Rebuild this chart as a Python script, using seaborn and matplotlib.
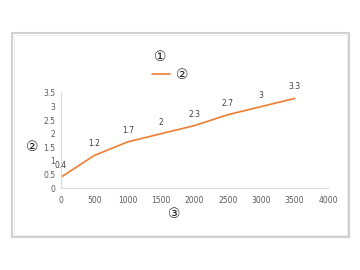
import matplotlib
matplotlib.use("Agg")
import matplotlib.pyplot as plt
import seaborn as sns
import pandas as pd
from matplotlib.patches import Rectangle

x_vals = [0, 500, 1000, 1500, 2000, 2500, 3000, 3500]
y_vals = [0.4, 1.2, 1.7, 2.0, 2.3, 2.7, 3.0, 3.3]
y_labels = ["0.4", "1.2", "1.7", "2", "2.3", "2.7", "3", "3.3"]
x_ticks = [0, 500, 1000, 1500, 2000, 2500, 3000, 3500, 4000]
y_ticks = [0, 0.5, 1, 1.5, 2, 2.5, 3, 3.5]
y_tick_labels = ["0", "0.5", "1", "1.5", "2", "2.5", "3", "3.5"]
title = "①"
series_name = "②"
x_title = "③"
y_title = "②"

sns.set_theme(style="white")
plt.rcParams['font.family'] = ['DejaVu Sans', 'Noto Sans CJK SC']

df = pd.DataFrame({"x": x_vals, "y": y_vals})

fig = plt.figure(figsize=(3.6, 2.7), dpi=100)
fig.patch.set_facecolor("white")

# outer frame
fig.patches.append(Rectangle((12/360, 1-237/270), 337/360, 204/270, transform=fig.transFigure,
                             facecolor="none", edgecolor="#d0d0d0", lw=1.5, zorder=0))
fig.patches.append(Rectangle((14/360, 1-235/270), 333/360, 200/270, transform=fig.transFigure,
                             facecolor="none", edgecolor="#ececec", lw=0.6, zorder=0))

ax = fig.add_axes([61/360, 1-188/270, (328-61)/360, (188-93)/270])
ax.set_zorder(5)
ax.set_facecolor("none")
color = "#ED7D31"
sns.lineplot(data=df, x="x", y="y", ax=ax, color=color, lw=1.2, label=series_name, legend=False)

for xv, yv, lab in zip(x_vals, y_vals, y_labels):
    ax.annotate(lab, (xv, yv), xytext=(0, 5), textcoords="offset points",
                ha="center", va="bottom", fontsize=5.5, color="#404040")

ax.set_xlim(0, 4000)
ax.set_ylim(0, 3.5)
ax.set_xticks(x_ticks)
ax.set_xticklabels([str(t) for t in x_ticks])
ax.set_yticks(y_ticks)
ax.set_yticklabels(y_tick_labels)
ax.tick_params(axis="both", labelsize=5.5, colors="#595959", length=0, pad=6)
ax.tick_params(axis="y", pad=4)
for s in ["top", "right"]:
    ax.spines[s].set_visible(False)
for s in ["left", "bottom"]:
    ax.spines[s].set_color("#d9d9d9")
    ax.spines[s].set_linewidth(0.8)
ax.set_xlabel("")
ax.set_ylabel("")

fig.text(160/360, 1-57/270, title, ha="center", va="center", fontsize=10, color="#222222")
fig.text(174/360, 1-214/270, x_title, ha="center", va="center", fontsize=10, color="#222222")
fig.text(32/360, 1-147/270, y_title, ha="center", va="center", fontsize=10, color="#222222")
# legend
fig.lines.append(plt.Line2D([152/360, 170/360], [1-74/270, 1-74/270], transform=fig.transFigure,
                            color=color, lw=1.2))
fig.text(182/360, 1-75/270, series_name, ha="center", va="center", fontsize=10, color="#222222")

fig.savefig("out.png", dpi=100, facecolor="white")
